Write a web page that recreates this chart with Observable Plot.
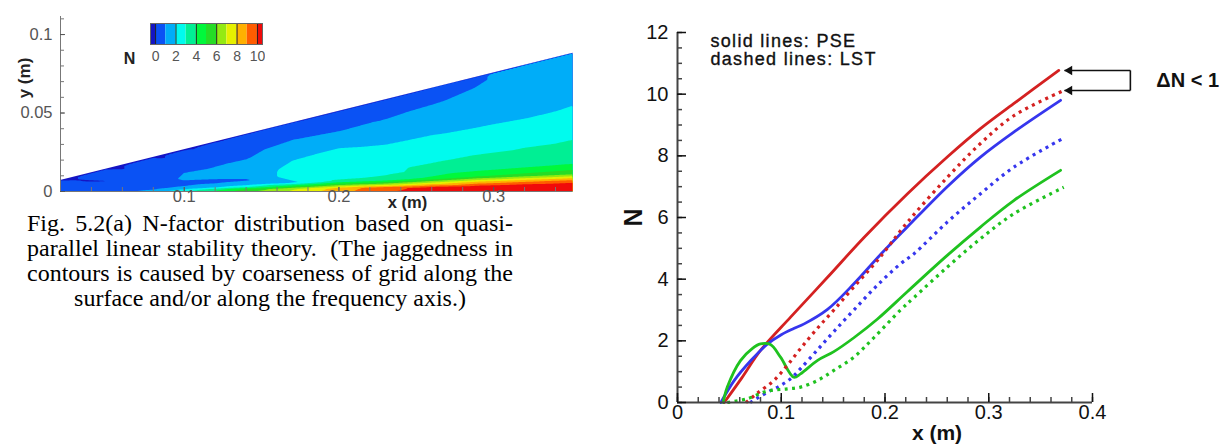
<!DOCTYPE html>
<html><head><meta charset="utf-8">
<script src="https://cdn.jsdelivr.net/npm/d3@7"></script>
<script src="https://cdn.jsdelivr.net/npm/@observablehq/plot@0.6"></script>
<style>
body{margin:0;background:#fff;width:1225px;height:444px;position:relative;overflow:hidden;}
.abs{position:absolute;}
#caption{left:27px;top:211px;width:486px;font-family:"Liberation Serif","Times New Roman",serif;font-size:24px;line-height:25px;color:#000;white-space:nowrap;}
#caption .j{text-align:justify;text-align-last:justify;}
#caption .c{text-align:center;}
</style></head><body>
<div id="left" class="abs" style="left:0;top:0;width:600px"></div>
<div id="cbar" class="abs" style="left:120px;top:18px;width:145px"></div>
<div id="caption" class="abs"></div>
<div id="right" class="abs" style="left:600px;top:0;width:625px"></div>
<script>
// ---------- Left panel: LST N-factor field over the cone surface ----------
const levels = [0, 1, 2, 3, 4, 5, 6, 7, 8, 9, 10];
const levelColors = ["#1414c4", "#0a52f4", "#00adf8", "#00fbee", "#00ef94", "#00f83c", "#26dc26", "#94ea12", "#e6f000", "#ffb000", "#ff5c00", "#f00a0a"];
const cbarLabels = [0, 2, 4, 6, 8, 10];
const wedgeX = [0.02, 0.352];
const wedgeTop = [0.007, 0.0883];
const gridX = [0.02, 0.05, 0.08, 0.10, 0.12, 0.14, 0.17, 0.20, 0.23, 0.26, 0.29, 0.32, 0.352];
const gridEta = [0, 0.04, 0.08, 0.13, 0.2, 0.3, 0.45, 0.6, 0.75, 0.9, 0.97, 1];
const gridN = [
  [-0.3, 0.3, 0.4, 0.5, 0.5, 0.5, 0.5, 0.5, 0.5, 0.5, 0.3, -0.3],
  [0.3, 0.5, 0.5, 0.5, 0.5, 0.5, -0.05, 0.5, 0.5, 0.5, 0.3, -0.3],
  [1.3, 1.1, 0.8, 0.6, 0.5, 0.6, 0.6, 0.5, 0.5, 0.5, 0.3, -0.3],
  [2.8, 2.3, 1.4, 1.0, 0.8, 1.1, 1.0, 0.6, 0.5, 0.5, 0.3, -0.3],
  [4.2, 3.6, 2.0, 1.2, 0.8, 1.2, 1.1, 0.8, 0.6, 0.5, 0.4, -0.1],
  [5.8, 5.2, 2.8, 1.5, 0.9, 1.4, 1.3, 0.9, 0.6, 0.5, 0.4, 0.1],
  [7.2, 6.8, 4.5, 1.8, 2.3, 2.3, 2.0, 1.6, 1.0, 0.7, 0.5, 0.3],
  [8.6, 8.4, 6.0, 3.2, 2.5, 2.5, 2.3, 1.8, 1.0, 0.7, 0.5, 0.3],
  [9.9, 9.7, 6.4, 3.4, 2.8, 2.7, 2.2, 1.7, 1.1, 0.7, 0.5, 0.4],
  [10.4, 10.3, 7.4, 4.2, 3.3, 2.9, 2.35, 1.8, 1.3, 0.8, 0.6, 0.5],
  [10.6, 10.6, 8.4, 5.0, 3.6, 3.1, 2.4, 1.85, 1.5, 1.05, 0.9, 0.9],
  [10.9, 10.9, 8.8, 5.3, 3.8, 3.2, 2.55, 1.9, 1.6, 1.4, 1.3, 1.2],
  [11.2, 11.1, 9.2, 5.6, 4.0, 3.3, 2.7, 2.05, 1.7, 1.6, 1.4, 1.3]
];
const captionLines = [
  "Fig. 5.2(a) N-factor distribution based on quasi-",
  "parallel linear stability theory.\u00a0 (The jaggedness in",
  "contours is caused by coarseness of grid along the",
  "surface and/or along the frequency axis.)"
];

// ---------- Right panel: N-factor curves, PSE (solid) vs LST (dotted) ----------
const redPseX = [0.045, 0.062, 0.08, 0.109, 0.1446, 0.18, 0.2217, 0.26, 0.292, 0.324, 0.3675];
const redPseN = [0, 0.8, 1.69, 2.77, 4.06, 5.36, 6.77, 7.96, 8.88, 9.69, 10.77];
const bluePseX = [0.0418, 0.0546, 0.0707, 0.0868, 0.1, 0.112, 0.1221, 0.1446, 0.17, 0.1957, 0.2217, 0.26, 0.292, 0.3241, 0.3692];
const bluePseN = [0, 0.71, 1.36, 1.9, 2.2, 2.4, 2.55, 3.02, 3.85, 4.8, 5.7, 7.0, 7.96, 8.77, 9.8];
const greenPseX = [0.044, 0.048, 0.0607, 0.072, 0.08, 0.0896, 0.0993, 0.1121, 0.1186, 0.1347, 0.1507, 0.17, 0.1925, 0.2217, 0.26, 0.292, 0.3241, 0.3692];
const greenPseN = [0, 0.5, 1.36, 1.75, 1.9, 1.88, 1.47, 0.82, 0.93, 1.36, 1.65, 2.1, 2.7, 3.6, 4.77, 5.69, 6.55, 7.53];
const redLstX = [0.066, 0.0768, 0.0928, 0.1057, 0.1186, 0.1347, 0.1507, 0.17, 0.1925, 0.2217, 0.26, 0.292, 0.3241, 0.3723];
const redLstN = [0, 0.3, 0.71, 1.2, 1.75, 2.4, 3.0, 3.75, 4.6, 5.85, 7.3, 8.4, 9.3, 10.12];
const blueLstX = [0.07, 0.0865, 0.0993, 0.11, 0.1186, 0.1347, 0.1507, 0.17, 0.1925, 0.215, 0.2278, 0.26, 0.292, 0.3241, 0.3723];
const blueLstN = [0, 0.33, 0.55, 0.8, 1.1, 1.7, 2.3, 3.0, 3.8, 4.5, 4.82, 5.85, 6.77, 7.63, 8.58];
const greenLstX = [0.048, 0.067, 0.0865, 0.1057, 0.1186, 0.1347, 0.1507, 0.17, 0.1892, 0.215, 0.2278, 0.26, 0.292, 0.3241, 0.3723];
const greenLstN = [0, 0.12, 0.37, 0.44, 0.5, 0.71, 1.04, 1.47, 2.1, 3.0, 3.4, 4.39, 5.31, 6.12, 6.98];
const seriesColors = {red: "#d42121", blue: "#3636ee", green: "#1fc21f"};
const yTicksR = [0, 2, 4, 6, 8, 10, 12];
const xTicksR = [0, 0.1, 0.2, 0.3, 0.4];
const legendLines = ["solid lines: PSE", "dashed lines: LST"];
const deltaLabel = "\u0394N < 1";

// ---------- caption ----------
const cap = document.getElementById("caption");
captionLines.forEach((t, i) => {
  const d = document.createElement("div");
  d.className = i < captionLines.length - 1 ? "j" : "c";
  d.textContent = t;
  cap.append(d);
});

// ---------- build left panel ----------
const font = "'Liberation Sans', Arial, Helvetica, sans-serif";
const topAt = x => wedgeTop[0] + (x - wedgeX[0]) * (wedgeTop[1] - wedgeTop[0]) / (wedgeX[1] - wedgeX[0]);
const field = gridX.flatMap((x, i) => gridEta.map((e, j) => ({x, y: e * topAt(x), N: gridN[i][j]})));
const wedge = wedgeX.map((x, i) => ({x, top: wedgeTop[i]}));
const xDomL = [0.02, 0.351], yMaxL = 0.1115;

const left = Plot.plot({
  width: 600, height: 215, marginLeft: 60, marginRight: 28, marginTop: 16, marginBottom: 24,
  style: {fontFamily: font, fontSize: "16px", background: "white", color: "#555"},
  x: {domain: xDomL, label: null}, y: {domain: [0, yMaxL], label: null},
  color: {type: "threshold", domain: levels, range: levelColors},
  marks: [
    Plot.contour(field, {x: "x", y: "y", fill: "N", interpolate: "barycentric", thresholds: [-5, ...levels], pixelSize: 1, stroke: "none"}),
    Plot.areaY(wedge, {x: "x", y1: "top", y2: yMaxL, fill: "white"}),
    Plot.ruleX([xDomL[0]], {y1: 0, y2: yMaxL, stroke: "#777"}),
    Plot.ruleY([0], {x1: xDomL[0], x2: xDomL[1], stroke: "#777"}),
    Plot.axisY({ticks: d3.range(0, 0.1101, 0.01), tickSize: -4, tickFormat: () => "", color: "#777", label: null}),
    Plot.axisY({ticks: [0, 0.05, 0.1], tickSize: -5, tickPadding: 13, tickFormat: d => String(d), color: "#555", fontSize: 16.5, label: null}),
    Plot.axisX({ticks: d3.range(0.04, 0.3501, 0.02), tickSize: -4, tickFormat: () => "", color: "#777", label: null}),
    Plot.axisX({ticks: [0.1, 0.2, 0.3], tickSize: -4, tickPadding: 3, tickFormat: d => String(d), color: "#555", fontSize: 16.5, label: null}),
    Plot.text(["y (m)"], {frameAnchor: "left", textAnchor: "middle", lineAnchor: "middle", rotate: -90, dx: -36, dy: -26, fontSize: 17, fontWeight: "bold", fill: "#222"}),
    Plot.text(["x (m)"], {frameAnchor: "bottom", textAnchor: "middle", lineAnchor: "middle", dx: 91, dy: 11.5, fontSize: 16.5, fontWeight: "bold", fill: "#222"})
  ]
});
document.getElementById("left").append(left);

// colour bar
const bandLo = [-0.5, ...levels];
const bandHi = [...levels, 10.5];
const bands = bandLo.map((lo, i) => ({lo, hi: bandHi[i]}));
const cbar = Plot.plot({
  width: 145, height: 50, marginLeft: 30, marginRight: 3, marginTop: 5, marginBottom: 24,
  style: {fontFamily: font, fontSize: "14px", background: "transparent", color: "#555"},
  x: {domain: [-0.5, 10.5], label: null},
  color: {type: "threshold", domain: levels, range: levelColors},
  marks: [
    Plot.rect(bands, {x1: "lo", x2: "hi", fill: "lo"}),
    Plot.ruleX(cbarLabels, {stroke: "#222"}),
    Plot.frame({stroke: "#666"}),
    Plot.axisX({ticks: cbarLabels, tickSize: 0, tickPadding: 7, color: "#555", fontSize: 14, label: null}),
    Plot.text(["N"], {frameAnchor: "left", textAnchor: "middle", lineAnchor: "middle", dx: -21, dy: 24.5, fontSize: 16, fontWeight: "bold", fill: "#222"})
  ]
});
document.getElementById("cbar").append(cbar);

// ---------- build right panel ----------
const mk = (xs, ns, color, method) => xs.map((x, i) => ({x, N: ns[i], color: seriesColors[color], key: color + method, method}));
const rows = [
  ...mk(redPseX, redPseN, "red", "PSE"), ...mk(bluePseX, bluePseN, "blue", "PSE"), ...mk(greenPseX, greenPseN, "green", "PSE"),
  ...mk(redLstX, redLstN, "red", "LST"), ...mk(blueLstX, blueLstN, "blue", "LST"), ...mk(greenLstX, greenLstN, "green", "LST")
];
const redEndPse = redPseN[redPseN.length - 1];
const redEndLst = redLstN[redLstN.length - 1];
const tipX = Math.max(redPseX[redPseX.length - 1], redLstX[redLstX.length - 1]) + 0.0007;
const tailX = 0.4365;
const arrows = [{y: redEndPse}, {y: redEndLst}];

const right = Plot.plot({
  width: 625, height: 444, marginLeft: 77, marginRight: 133, marginTop: 32, marginBottom: 42,
  style: {fontFamily: font, fontSize: "20px", background: "white", color: "#111"},
  x: {domain: [0, 0.4], label: null}, y: {domain: [0, 12], label: null},
  color: {type: "identity"},
  marks: [
    Plot.line(rows.filter(d => d.method === "PSE"), {x: "x", y: "N", z: "key", stroke: "color", strokeWidth: 2.8, curve: "catmull-rom"}),
    Plot.line(rows.filter(d => d.method === "LST"), {x: "x", y: "N", z: "key", stroke: "color", strokeWidth: 3.2, strokeDasharray: "3,4.4", strokeLinecap: "butt", curve: "catmull-rom"}),
    Plot.ruleX([0], {y1: 0, y2: 12, stroke: "#444", strokeWidth: 2}),
    Plot.ruleY([0], {x1: 0, x2: 0.4, stroke: "#444", strokeWidth: 2}),
    Plot.axisY({ticks: d3.range(0, 12.01, 0.5), tickSize: -5, tickFormat: () => "", color: "#444", strokeWidth: 1.5, label: null}),
    Plot.axisY({ticks: yTicksR, tickSize: -9, tickPadding: 18, tickFormat: d => String(d), color: "#111", fontSize: 20, strokeWidth: 1.5, label: null}),
    Plot.axisX({ticks: d3.range(0, 0.4001, 0.02), tickSize: -5, tickFormat: () => "", color: "#444", strokeWidth: 1.5, label: null}),
    Plot.axisX({ticks: xTicksR, tickSize: -9, tickPadding: 11, tickFormat: d => String(d), color: "#111", fontSize: 20, strokeWidth: 1.5, label: null}),
    Plot.text(["N"], {frameAnchor: "left", textAnchor: "middle", lineAnchor: "middle", rotate: -90, dx: -44, fontSize: 25, fontWeight: "bold", fill: "#111"}),
    Plot.text(["x (m)"], {frameAnchor: "bottom", textAnchor: "middle", lineAnchor: "middle", dx: 52, dy: 31, fontSize: 21, fontWeight: "bold", fill: "#111"}),
    Plot.text([legendLines[0]], {frameAnchor: "top-left", dx: 33, dy: 9, textAnchor: "start", lineAnchor: "middle", fontSize: 18, fill: "#111"}),
    Plot.text([legendLines[1]], {frameAnchor: "top-left", dx: 33, dy: 27, textAnchor: "start", lineAnchor: "middle", fontSize: 18, fill: "#111"}),
    Plot.link(arrows, {x1: tipX, x2: tailX, y1: "y", y2: "y", stroke: "#111", strokeWidth: 1.6}),
    Plot.dot(arrows, {x: tipX, y: "y", symbol: "triangle", rotate: -90, r: 3.5, dx: 5, fill: "#111", stroke: "none"}),
    Plot.link([{a: redEndPse, b: redEndLst}], {x1: tailX, x2: tailX, y1: "a", y2: "b", stroke: "#111", strokeWidth: 1.6}),
    Plot.text([deltaLabel], {x: tailX, y: (redEndPse + redEndLst) / 2, dx: 26, textAnchor: "start", lineAnchor: "middle", fontSize: 20, fontWeight: "bold", fill: "#111"})
  ]
});
// slightly wider letter spacing for the legend text, as in the original figure
d3.select(right).selectAll("text").filter(function() { return legendLines.includes(this.textContent); })
  .attr("letter-spacing", "1.3px").attr("stroke", "#111").attr("stroke-width", 0.35);
document.getElementById("right").append(right);
</script>
</body></html>
